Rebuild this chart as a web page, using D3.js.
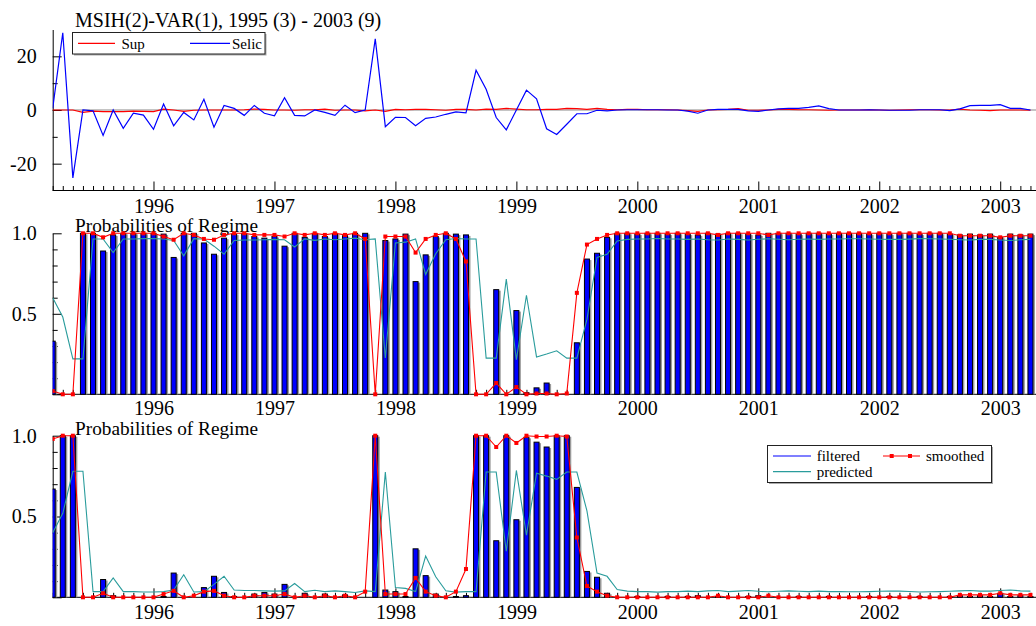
<!DOCTYPE html>
<html><head><meta charset="utf-8">
<script src="https://cdn.jsdelivr.net/npm/d3@7"></script>
<style>
body{margin:0;background:#fff}
svg{display:block}
text{font-family:"Liberation Serif","Times New Roman",serif;fill:#000}
</style>
</head><body>
<svg id="c" width="1036" height="626"></svg>
<script>
// ---- data (monthly, index 0 = 1995 (3)) ----
const chartTitle = "MSIH(2)-VAR(1), 1995 (3) - 2003 (9)";
const panelTitle = "Probabilities of Regime";
const yearLabels = ["1996","1997","1998","1999","2000","2001","2002","2003"];
const firstJanIndex = 10;

const selic = [
 0.6, 28.8,-25.3, 0.0,-0.3,-9.5, 0.0,-6.8,-1.2,-1.9,
 -7.2, 2.2,-5.9,-0.9,-3.7, 4.0,-6.4, 1.7, 0.6,-2.0,
 1.7,-1.2,-2.2, 4.6,-2.0,-2.2, 0.0,-0.9,-2.0, 1.8,
 -1.0, 0.0,26.5,-6.2,-2.7,-2.8,-5.9,-3.1,-2.6,-1.6,
 -0.7,-1.1,14.8, 7.7,-2.8,-7.4, 0.0, 7.4, 4.2,-7.0,
 -9.1,-5.3,-1.4,-1.4,-0.1,-0.3, 0.0, 0.1, 0.1, 0.1,
 0.1, 0.0, 0.0,-0.4,-1.2, 0.0, 0.2, 0.2, 0.2,-0.3,
 -0.5, 0.0, 0.4, 0.6, 0.6, 1.0, 1.5, 0.5, 0.0, 0.0,
 0.0, 0.1, 0.0,-0.1,-0.1,-0.1, 0.1, 0.1, 0.1,-0.2,
 0.4, 1.6, 1.7, 1.7, 2.0, 0.6, 0.6, 0.0
];
const sup = [
 0.0, 0.0, 0.0,-0.85,-0.4,-0.6,-0.6,-0.6,-0.4,-0.5,
 -0.6, 0.35, 0.0,-0.5,-0.1, 0.0, 0.0, 0.0, 0.0, 0.1,
 0.35, 0.25, 0.0, 0.0,-0.1, 0.1, 0.1, 0.35,-0.1, 0.0,
 0.0,-0.35, 0.0,-0.5, 0.25, 0.1, 0.25, 0.25, 0.1,-0.1,
 0.25, 0.25, 0.0, 0.35, 0.25, 0.6, 0.35, 0.1, 0.1, 0.25,
 0.25, 0.6, 0.5, 0.25, 0.6, 0.25, 0.1, 0.2, 0.2, 0.1,
 0.1, 0.1, 0.0,-0.25,-0.5, 0.0, 0.1, 0.25, 0.5,-0.1,
 -0.1, 0.0, 0.25, 0.25, 0.1, 0.1, 0.0,-0.1, 0.0, 0.0,
 0.0, 0.1, 0.0,-0.1, 0.0, 0.1, 0.1, 0.1, 0.0, 0.0,
 0.35, 0.0,-0.1,-0.25, 0.0, 0.0, 0.0,-0.1
];

// regime 0 (middle panel)
const filtered0 = [
 0.33,0,0,1,1,0.89,0.99,1,1,1,
 1,0.995,0.85,1,1,0.94,0.87,0.97,0.995,1,
 0.98,0.97,0.98,0.92,1,0.975,1,0.98,1,0.985,
 1,1,0,0.955,0.965,0.995,0.70,0.866,0.98,1,
 0.995,0.99,0,0,0.65,0,0.52,0.01,0.04,0.07,
 0,0,0.32,0.84,0.876,0.975,1,1,0.995,1,
 1,0.995,1,0.995,0.99,1,0.995,1,1,0.995,
 0.99,1,1,1,0.995,1,1,0.995,1,1,
 1,0.995,1,0.995,1,1,0.995,1,1,0.995,
 0.99,0.995,0.99,0.995,0.975,0.995,0.99,0.995
];
const smoothed0 = [
 0.02,0,0,1,1,0.975,1,1,1,1,
 1,0.98,0.96,1,0.99,0.965,0.96,0.99,1,1,
 0.99,0.99,0.99,0.98,1,0.99,1,0.99,1,0.99,
 1,0.965,0,0.98,0.98,0.98,0.88,0.965,0.99,1,
 0.965,0.825,0,0,0.07,0,0.045,0,0.005,0.005,
 0,0.005,0.63,0.93,0.965,0.99,1,1,1,1,
 1,1,1,1,1,1,0.99,1,1,1,
 1,0.99,1,1,1,1,1,1,1,1,
 1,1,1,1,1,1,1,1,1,1,
 0.985,0.985,0.985,0.985,0.975,0.985,0.985,0.985
];
const predicted0 = [
 0.60,0.48,0.22,0.22,0.965,0.965,0.88,0.965,0.965,0.967,
 0.967,0.965,0.955,0.86,0.967,0.965,0.92,0.87,0.955,0.958,
 0.958,0.96,0.962,0.96,0.915,0.965,0.956,0.965,0.96,0.965,
 0.97,0.96,0.965,0.225,0.94,0.945,0.965,0.745,0.873,0.96,
 0.968,0.965,0.965,0.225,0.225,0.715,0.215,0.615,0.232,0.25,
 0.27,0.225,0.225,0.465,0.85,0.87,0.952,0.962,0.965,0.965,
 0.968,0.965,0.965,0.962,0.965,0.96,0.958,0.965,0.962,0.958,
 0.963,0.966,0.963,0.96,0.963,0.965,0.962,0.965,0.965,0.966,
 0.966,0.965,0.963,0.962,0.962,0.964,0.967,0.966,0.965,0.963,
 0.96,0.958,0.962,0.962,0.958,0.955,0.96,0.962
];
// regime 1 (bottom panel)
const filtered1 = [
 0.67,1,1,0,0,0.11,0.01,0,0,0,
 0,0.005,0.15,0,0,0.06,0.13,0.03,0.005,0,
 0.02,0.03,0.02,0.08,0,0.025,0,0.02,0,0.015,
 0,0,1,0.045,0.035,0.005,0.30,0.134,0.02,0,
 0.005,0.01,1,1,0.35,1,0.48,0.99,0.96,0.93,
 1,1,0.68,0.16,0.124,0.025,0,0,0.005,0,
 0,0.005,0,0.005,0.01,0,0.005,0,0,0.005,
 0.01,0,0,0,0.005,0,0,0.005,0,0,
 0,0.005,0,0.005,0,0,0.005,0,0,0.005,
 0.01,0.005,0.01,0.005,0.025,0.005,0.01,0.005
];
const smoothed1 = [
 0.98,1,1,0,0,0.025,0,0,0,0,
 0,0.02,0.04,0,0.01,0.035,0.04,0.01,0,0,
 0.01,0.01,0.01,0.02,0,0.01,0,0.01,0,0.01,
 0,0.035,1,0.02,0.02,0.02,0.12,0.035,0.01,0,
 0.035,0.175,1,1,0.93,1,0.955,1,0.995,0.995,
 1,0.995,0.37,0.07,0.035,0.01,0,0,0,0,
 0,0,0,0,0,0,0.01,0,0,0,
 0,0.01,0,0,0,0,0,0,0,0,
 0,0,0,0,0,0,0,0,0,0,
 0.015,0.015,0.015,0.015,0.025,0.015,0.015,0.015
];
const predicted1 = [
 0.40,0.52,0.78,0.78,0.035,0.035,0.12,0.035,0.035,0.033,
 0.033,0.035,0.045,0.14,0.033,0.035,0.08,0.13,0.045,0.042,
 0.042,0.04,0.038,0.04,0.085,0.035,0.044,0.035,0.04,0.035,
 0.03,0.04,0.035,0.775,0.06,0.055,0.035,0.255,0.127,0.04,
 0.032,0.035,0.035,0.775,0.775,0.285,0.785,0.385,0.768,0.75,
 0.73,0.775,0.775,0.535,0.15,0.13,0.048,0.038,0.035,0.035,
 0.032,0.035,0.035,0.038,0.035,0.04,0.042,0.035,0.038,0.042,
 0.037,0.034,0.037,0.04,0.037,0.035,0.038,0.035,0.035,0.034,
 0.034,0.035,0.037,0.038,0.038,0.036,0.033,0.034,0.035,0.037,
 0.04,0.042,0.038,0.038,0.042,0.045,0.04,0.038
];

// ---- drawing ----
const FONT = '"Liberation Serif","Times New Roman",serif';
const svg = d3.select("#c");
const N = selic.length;
const idx = d3.range(N);
const x = d3.scaleLinear().domain([0, 97.6]).range([52.7, 1036.5]);
const yearIdx = yearLabels.map((_, k) => firstJanIndex + 12 * k);
const monthIdx = idx.filter(i => !yearIdx.includes(i));
const TEAL = "#2a9c9c";

function styleAxis(g, fs) {
  g.attr("font-family", FONT).attr("font-size", fs);
  g.selectAll("path.domain").attr("stroke", "#000").attr("stroke-width", 1);
  g.selectAll(".tick line").attr("stroke", "#000").attr("stroke-width", 1);
  g.selectAll("text").style("font-size", fs + "px").style("font-family", FONT).attr("fill", "#000");
}

function xAxes(yPos, pad) {
  const gm = svg.append("g").attr("transform", `translate(0,${yPos})`)
    .call(d3.axisBottom(x).tickValues(monthIdx).tickSize(-4.5).tickSizeOuter(0).tickFormat(""));
  styleAxis(gm, 20);
  gm.select("path.domain").attr("d", `M${x.range()[0]},0H1036`);
  const gy = svg.append("g").attr("transform", `translate(0,${yPos})`)
    .call(d3.axisBottom(x).tickValues(yearIdx).tickSize(-9).tickSizeOuter(0).tickPadding(pad)
      .tickFormat((d, k) => yearLabels[k]));
  styleAxis(gy, 20);
  gy.select("path.domain").remove();
}

function yAxes(y, majors, minors, fmt) {
  const gmin = svg.append("g").attr("transform", `translate(${x(0)},0)`)
    .call(d3.axisLeft(y).tickValues(minors).tickSize(-5).tickSizeOuter(0).tickFormat(""));
  styleAxis(gmin, 20);
  const gmaj = svg.append("g").attr("transform", `translate(${x(0)},0)`)
    .call(d3.axisLeft(y).tickValues(majors).tickSize(-9).tickSizeOuter(0).tickPadding(16).tickFormat(fmt));
  styleAxis(gmaj, 20);
  gmaj.select("path.domain").remove();
}

function clip(id, top, bottom) {
  svg.append("clipPath").attr("id", id).append("rect")
    .attr("x", x(0)).attr("y", top).attr("width", 1036 - x(0) + 2).attr("height", bottom - top);
  return svg.append("g").attr("clip-path", `url(#${id})`);
}

// Title
svg.append("text").attr("x", 75).attr("y", 26.5).style("font-size", "20px").text(chartTitle);

// ---- Panel 1 ----
const y1 = d3.scaleLinear().domain([-30, 30]).range([190.5, 29.5]);
svg.append("line").attr("x1", x(0)).attr("x2", 1036).attr("y1", y1(0)).attr("y2", y1(0))
  .attr("stroke", "#b0b0b0").attr("stroke-width", 1.5);
xAxes(y1(-30), 8);
yAxes(y1, [-20, 0, 20], [-10, 10], d => d3.format("d")(d).replace("−", "-"));
const p1 = clip("c1", 25, 191);
const line1 = d3.line().x((d, i) => x(i)).y(d => y1(d));
p1.append("path").datum(sup).attr("d", line1).attr("fill", "none").attr("stroke", "#ff0000").attr("stroke-width", 1.2);
p1.append("path").datum(selic).attr("d", line1).attr("fill", "none").attr("stroke", "#0000ff").attr("stroke-width", 1.2);

// legend 1
const lg1 = svg.append("g");
lg1.append("rect").attr("x", 74).attr("y", 34).attr("width", 192.5).attr("height", 21.5).attr("fill", "#aaa");
lg1.append("rect").attr("x", 72.5).attr("y", 32.5).attr("width", 192.5).attr("height", 21.5)
  .attr("fill", "#fff").attr("stroke", "#222").attr("stroke-width", 1);
lg1.append("line").attr("x1", 78).attr("x2", 115).attr("y1", 43.3).attr("y2", 43.3).attr("stroke", "#ff0000").attr("stroke-width", 1.2);
lg1.append("text").attr("x", 121.5).attr("y", 48.5).style("font-size", "15px").text("Sup");
lg1.append("line").attr("x1", 190).attr("x2", 230).attr("y1", 43.3).attr("y2", 43.3).attr("stroke", "#0000ff").attr("stroke-width", 1.2);
lg1.append("text").attr("x", 232).attr("y", 48.5).style("font-size", "15px").text("Selic");

// ---- probability panels ----
function probPanel(id, y0px, y1px, filt, smooth, pred, titleY, pad) {
  const y = d3.scaleLinear().domain([0, 1]).range([y0px, y1px]);
  xAxes(y(0), pad);
  yAxes(y, [0, 0.5, 1], [0.1,0.2,0.3,0.4,0.6,0.7,0.8,0.9], d => d === 0 ? "" : d3.format(".1f")(d));
  svg.append("text").attr("x", 75).attr("y", titleY).style("font-size", "19px")
    .attr("textLength", 183).attr("lengthAdjust", "spacingAndGlyphs").text(panelTitle);
  const g = clip(id, y(1) - 6, y(0) + 3);
  const bw = 6;
  g.selectAll("rect.sh").data(filt).join("rect").attr("class", "sh")
    .attr("x", (d, i) => x(i) - bw / 2 + 1.5).attr("width", bw)
    .attr("y", d => y(d) + 1).attr("height", d => Math.max(0, y(0) - y(d) - 1))
    .attr("fill", "#9a9a9a");
  g.selectAll("rect.bar").data(filt).join("rect").attr("class", "bar")
    .attr("x", (d, i) => x(i) - bw / 2 + 0.5).attr("width", bw - 1)
    .attr("y", d => y(d)).attr("height", d => y(0) - y(d))
    .attr("fill", "#0000ff").attr("stroke", "#000").attr("stroke-width", 1);
  const ln = d3.line().x((d, i) => x(i)).y(d => y(d));
  g.append("path").datum(pred).attr("d", ln).attr("fill", "none").attr("stroke", TEAL).attr("stroke-width", 1.1);
  g.append("path").datum(smooth).attr("d", ln).attr("fill", "none").attr("stroke", "#ff0000").attr("stroke-width", 1.1);
  g.selectAll("rect.mk").data(smooth).join("rect").attr("class", "mk")
    .attr("x", (d, i) => x(i) - 2).attr("y", d => y(d) - 2).attr("width", 4).attr("height", 4)
    .attr("fill", "#ff0000");
  return y;
}

probPanel("c2", 394.3, 233.3, filtered0, smoothed0, predicted0, 232, 7);
probPanel("c3", 597.3, 435.7, filtered1, smoothed1, predicted1, 434.5, 8);

// legend 3
const lg3 = svg.append("g");
lg3.append("rect").attr("x", 769).attr("y", 447).attr("width", 224).attr("height", 37).attr("fill", "#aaa");
lg3.append("rect").attr("x", 767.5).attr("y", 445.5).attr("width", 224).attr("height", 37)
  .attr("fill", "#fff").attr("stroke", "#222").attr("stroke-width", 1);
lg3.append("line").attr("x1", 773).attr("x2", 811).attr("y1", 456).attr("y2", 456).attr("stroke", "#0000ff").attr("stroke-width", 1.2);
lg3.append("text").attr("x", 816.7).attr("y", 461).style("font-size", "15px").text("filtered");
lg3.append("line").attr("x1", 883).attr("x2", 920).attr("y1", 456).attr("y2", 456).attr("stroke", "#ff0000").attr("stroke-width", 1.2);
[891.7, 910].forEach(px => lg3.append("rect").attr("x", px - 2).attr("y", 454).attr("width", 4).attr("height", 4).attr("fill", "#ff0000"));
lg3.append("text").attr("x", 926).attr("y", 461).style("font-size", "15px").text("smoothed");
lg3.append("line").attr("x1", 773).attr("x2", 811).attr("y1", 471.7).attr("y2", 471.7).attr("stroke", TEAL).attr("stroke-width", 1.2);
lg3.append("text").attr("x", 816.7).attr("y", 476.7).style("font-size", "15px").text("predicted");
</script>
</body></html>
